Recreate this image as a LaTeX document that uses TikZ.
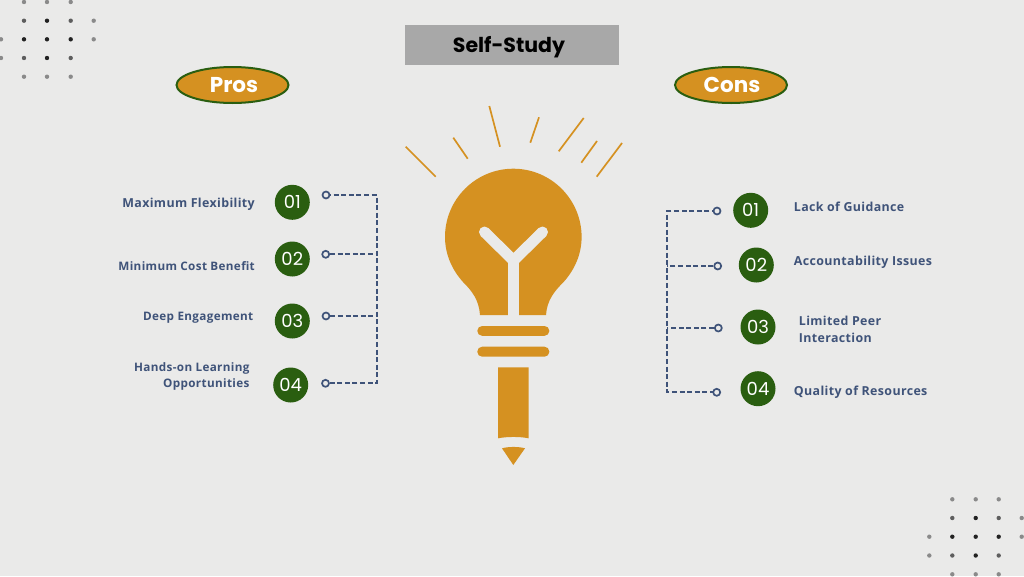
\documentclass[tikz,border=0pt]{standalone}
\usepackage{fontspec}
\setmainfont{Open Sans}
\newfontfamily\popfont{Poppins}
\usetikzlibrary{shapes.geometric}
\definecolor{bgc}{HTML}{EAEAE9}
\definecolor{gold}{HTML}{D59121}
\definecolor{leaf}{HTML}{2A5E10}
\definecolor{ink}{HTML}{3F5379}
\definecolor{band}{HTML}{A8A8A8}
\definecolor{dotA}{HTML}{8A8A8A}
\definecolor{dotB}{HTML}{5E5E5E}
\definecolor{dotC}{HTML}{222222}
\tikzset{
  badge/.style={ellipse,draw=leaf,line width=2pt,fill=gold,minimum width=112pt,minimum height=36pt,inner sep=0pt},
  badgetext/.style={text=white,inner sep=0pt,font=\popfont\bfseries\fontsize{21.5}{24}\selectfont},
  numdot/.style={circle,fill=leaf,minimum size=35pt,inner sep=0pt,text=white,font=\popfont\fontsize{18}{20}\selectfont},
  pin/.style={circle,draw=ink,line width=1.7pt,fill=bgc,minimum size=7pt,inner sep=0pt},
  dashline/.style={draw=ink,line width=2pt,dash pattern=on 5pt off 2.6pt},
  lab/.style={text=ink,inner sep=0pt,font=\bfseries\fontsize{12.4}{16.5}\selectfont\addfontfeature{LetterSpace=3}},
  labsmall/.style={text=ink,inner sep=0pt,font=\bfseries\fontsize{11.7}{16.5}\selectfont\addfontfeature{LetterSpace=3}},
  ray/.style={draw=gold,line width=1.7pt},
  dotg/.style={fill=dotA},dotd/.style={fill=dotB},dotk/.style={fill=dotC}
}
\newcommand{\dotat}[3]{\fill[#3] (#1,#2) circle (2.2pt);}
\begin{document}
\begin{tikzpicture}[x=1pt,y=-1pt]
\useasboundingbox (0,0) rectangle (1024,576);
\fill[bgc] (0,0) rectangle (1024,576);
% dots
\foreach \x/\y/\s in {24/2/dotg,47/2/dotg,70.7/2/dotg,
  24/20.7/dotd,47/20.7/dotk,70.7/20.7/dotd,93.7/20.7/dotg,
  1/39.3/dotg,24/39.3/dotk,47/39.3/dotk,70.7/39.3/dotk,93.7/39.3/dotg,
  1/58/dotg,24/58/dotd,47/58/dotk,70.7/58/dotd,
  24/76.7/dotg,47/76.7/dotg,70.7/76.7/dotg,
  952.3/499.3/dotg,975.7/499.3/dotg,998.7/499.3/dotg,
  952.3/518/dotd,975.7/518/dotk,998.7/518/dotd,1021.7/518/dotg,
  929.3/536.7/dotg,952.3/536.7/dotk,975.7/536.7/dotk,998.7/536.7/dotk,1021.7/536.7/dotg,
  929.3/555.5/dotg,952.3/555.5/dotd,975.7/555.5/dotk,998.7/555.5/dotd,
  952.3/574.3/dotg,975.7/574.3/dotg,998.7/574.3/dotg}{\dotat{\x}{\y}{\s}}
% title and badges
\node[fill=band,minimum width=214pt,minimum height=40pt,inner sep=0pt] (title) at (512,45) {};
\node[text=black,inner sep=0pt,font=\popfont\bfseries\fontsize{20.5}{22}\selectfont] (titletext) at (509,47) {Self-Study};
\node[badge] (pros) at (232.5,85) {};
\node[badge] (cons) at (731,85) {};
\node[badgetext] (prostext) at (234,85) {Pros};
\node[badgetext] (constext) at (732,85) {Cons};
% rays
\draw[ray] (405.7,146.7) -- (435.7,176.7);
\draw[ray] (453.3,137.7) -- (467.7,158.7);
\draw[ray] (489.3,106) -- (500,146.7);
\draw[ray] (539,117.3) -- (530.3,142.7);
\draw[ray] (583.7,118) -- (558.7,151.3);
\draw[ray] (597,141) -- (581.3,162.7);
\draw[ray] (622,143) -- (596.7,176.7);
% bulb
\fill[gold] (480,315) .. controls (479,300) and (472,291) .. (463,282)
  .. controls (451.7,269.4) and (445,253.9) .. (445,237)
  .. controls (445,199.3) and (475.6,168.7) .. (513.3,168.7)
  .. controls (551,168.7) and (581.6,199.3) .. (581.6,237)
  .. controls (581.6,253.9) and (574.9,269.4) .. (563.6,282)
  .. controls (554.6,291) and (547,300) .. (546,315) -- cycle;
\draw[bgc,line width=11pt,line cap=round,line join=miter] (484.5,232) -- (513.5,260.5) -- (542.5,232);
\fill[bgc] (508,260) rectangle (519,316);
\fill[gold,rounded corners=4.8pt] (477.3,326) rectangle (549.3,335.8);
\fill[gold,rounded corners=4.8pt] (477.3,346.7) rectangle (549.3,356.7);
\fill[gold] (498,367.3) -- (528.7,367.3) -- (528.7,438.3) .. controls (520,436.5) and (507,436.5) .. (498,438.3) -- cycle;
\fill[gold] (502,448.3) .. controls (508,446.5) and (519,446.5) .. (525,448.3) -- (513.3,465) -- cycle;
% left
\node[numdot] (l1) at (292.3,202.3) {01};
\node[numdot] (l2) at (292.3,259) {02};
\node[numdot] (l3) at (292.3,321) {03};
\node[numdot] (l4) at (290.7,385) {04};
\node[lab,anchor=east] (lt1) at (255,204.5) {Maximum Flexibility};
\node[labsmall,anchor=east] (lt2) at (255,266) {Minimum Cost Benefit};
\node[labsmall,anchor=east] (lt3) at (253.5,318) {Deep Engagement};
\node[labsmall,anchor=east,align=right] (lt4) at (249.7,376.5) {Hands-on Learning\\Opportunities};
\coordinate (lc1) at (376.7,195);
\coordinate (lc2) at (376.7,254.3);
\coordinate (lc3) at (376.7,316);
\coordinate (lc4) at (376.7,383.3);
\draw[dashline] (326,195) -- (lc1) -- (lc4) -- (325.5,383.3);
\node[pin] (lp1) at (326,195) {};
\node[pin] (lp2) at (325.7,254.3) {};
\node[pin] (lp3) at (326,316) {};
\node[pin] (lp4) at (325.5,383.3) {};
\draw[dashline] (lp2) -- (lc2);
\draw[dashline] (lp3) -- (lc3);
% right
\node[numdot] (r1) at (750.7,210.3) {01};
\node[numdot] (r2) at (756.3,265) {02};
\node[numdot] (r3) at (758,327) {03};
\node[numdot] (r4) at (758,388.7) {04};
\node[lab,anchor=west] (rt1) at (793.7,207) {Lack of Guidance};
\node[lab,anchor=west] (rt2) at (793.7,262) {Accountability Issues};
\node[lab,anchor=west,align=left] (rt3) at (798.7,329.5) {Limited Peer\\Interaction};
\node[lab,anchor=west] (rt4) at (793.7,392) {Quality of Resources};
\coordinate (rc1) at (667.3,211);
\coordinate (rc2) at (667.3,266);
\coordinate (rc3) at (667.3,328);
\coordinate (rc4) at (667.3,392.3);
\draw[dashline] (717,211) -- (rc1) -- (rc4) -- (716.7,392.3);
\node[pin] (rp1) at (717,211) {};
\node[pin] (rp2) at (717.7,266) {};
\node[pin] (rp3) at (718.3,328) {};
\node[pin] (rp4) at (716.7,392.3) {};
\draw[dashline] (rp2) -- (rc2);
\draw[dashline] (rp3) -- (rc3);
\end{tikzpicture}
\end{document}
